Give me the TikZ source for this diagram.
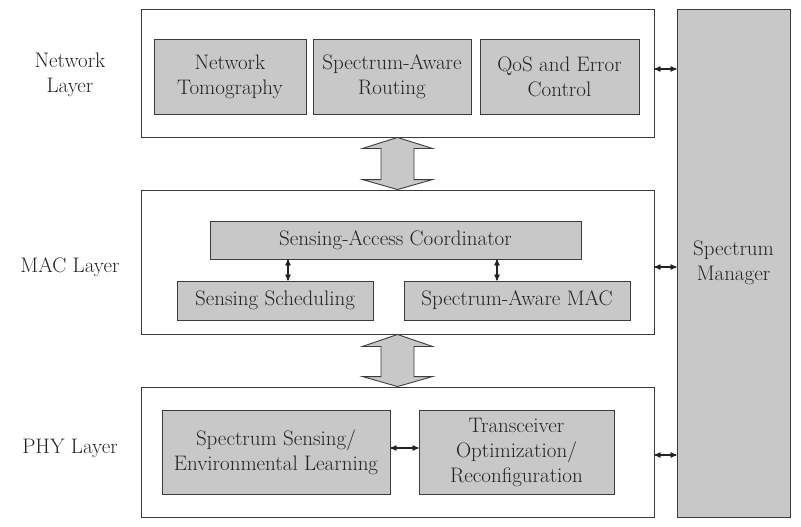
\documentclass[tikz,border=0pt]{standalone}
\usepackage{tikz}
\usetikzlibrary{positioning,arrows}
\definecolor{boxgray}{RGB}{200,200,200}
\definecolor{linegray}{RGB}{60,60,60}
\definecolor{textgray}{RGB}{35,35,35}
\tikzset{
        x=1pt, y=-1pt, % pixel-like units, y going down
        layer/.style={draw=linegray, line width=0.9pt, fill=white, inner sep=0pt}, % the three layer frames
        block/.style={draw=linegray, line width=0.9pt, fill=boxgray, inner sep=0pt, align=center,
                      text=textgray, font=\fontsize{21}{25}\selectfont}, % gray function boxes
        label/.style={align=center, text=textgray, font=\fontsize{21}{25}\selectfont},
        link/.style={<->, >=stealth', draw=textgray, line width=1.2pt}, % small double arrows
        bigarrow/.style={draw=linegray, line width=0.9pt, fill=boxgray}, % wide arrows between layers
}
\begin{document}
\begin{tikzpicture}
\useasboundingbox (0,0) rectangle (801,527);
% layer frames
\node[layer, minimum width=513pt, minimum height=128pt] (net) at (397.5,73) {};
\node[layer, minimum width=513pt, minimum height=144pt] (mac) at (397.5,262) {};
\node[layer, minimum width=513pt, minimum height=130pt] (phy) at (397.5,452) {};
\node[block, minimum width=113pt, minimum height=508pt] (sm) at (733.5,263) {Spectrum\\Manager};
% layer names
\node[label] (netlabel) at (70,75) {Network\\Layer};
\node[label] (maclabel) at (70,267) {MAC Layer};
\node[label] (phylabel) at (70,448) {PHY Layer};
% network layer
\node[block, minimum width=152pt, minimum height=75pt] (tomo) at (230,76.5) {Network\\Tomography};
\node[block, minimum width=158pt, minimum height=75pt] (route) at (392,76.5) {Spectrum-Aware\\Routing};
\node[block, minimum width=159pt, minimum height=75pt] (qos) at (559.5,76.5) {QoS and Error\\Control};
% MAC layer
\node[block, minimum width=371pt, minimum height=38pt] (coord) at (395.5,240) {Sensing-Access Coordinator};
\node[block, minimum width=196pt, minimum height=39pt] (sched) at (275,300.5) {Sensing Scheduling};
\node[block, minimum width=226pt, minimum height=39pt] (smac) at (517,300.5) {Spectrum-Aware MAC};
% PHY layer
\node[block, minimum width=228pt, minimum height=84pt] (sense) at (276,452) {Spectrum Sensing/\\Environmental Learning};
\node[block, minimum width=195pt, minimum height=84pt] (trx) at (516.5,452) {Transceiver\\Optimization/\\Reconfiguration};
% small arrows
\draw[link] (coord.south -| 288,0) -- (sched.north -| 288,0);
\draw[link] (coord.south -| 497,0) -- (smac.north -| 497,0);
\draw[link] ([yshift=4pt]sense.east) -- ([yshift=4pt]trx.west);
\draw[link] ([yshift=4pt]net.east) -- ([yshift=4pt]net.east -| sm.west);
\draw[link] ([yshift=-5pt]mac.east) -- ([yshift=-5pt]mac.east -| sm.west);
\draw[link] ([yshift=-3pt]phy.east) -- ([yshift=-3pt]phy.east -| sm.west);
% wide arrows between layers
\draw[bigarrow] (net.south) -- ++(35,11) -- ++(-18.5,0) -- ([xshift=16.5pt,yshift=10pt]mac.north)
  -- ++(18.5,0) -- (mac.north) -- ++(-35,-10) -- ++(18.5,0) -- ([xshift=-16.5pt,yshift=-11pt]net.south)
  -- ++(-18.5,0) -- cycle;
\draw[bigarrow] (mac.south) -- ++(35,12) -- ++(-18.5,0) -- ([xshift=16.5pt,yshift=10pt]phy.north)
  -- ++(18.5,0) -- (phy.north) -- ++(-35,-10) -- ++(18.5,0) -- ([xshift=-16.5pt,yshift=-12pt]mac.south)
  -- ++(-18.5,0) -- cycle;
\end{tikzpicture}
\end{document}
